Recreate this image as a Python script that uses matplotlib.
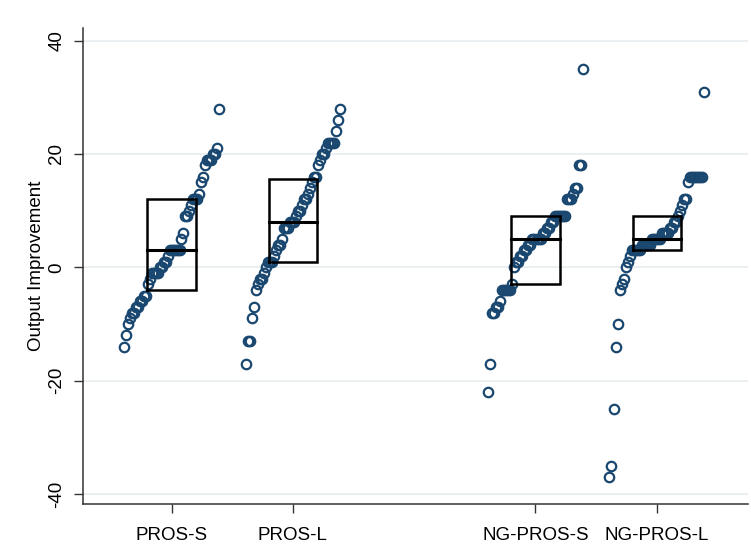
import matplotlib
matplotlib.use("Agg")
import matplotlib.pyplot as plt
import numpy as np

# ---- data ----
categories = ["PROS-S", "PROS-L", "NG-PROS-S", "NG-PROS-L"]
positions = [1, 2, 4, 5]

pros_s = [-14, -12, -10, -9, -8, -8, -7, -7, -6, -6, -5, -5, -3, -2, -1, -1, -1, -1,
          0, 0, 1, 1, 2, 3, 3, 3, 3, 3, 3, 5, 6, 9, 9, 10, 11, 12, 12, 12, 13, 15,
          16, 18, 19, 19, 19, 20, 20, 21, 28]
pros_l = [-17, -13, -13, -9, -7, -4, -3, -2, -2, -1, 0, 1, 1, 1, 2, 3, 4, 4, 5, 7,
          7, 7, 8, 8, 8, 9, 10, 10, 11, 12, 12, 13, 14, 15, 16, 16, 18, 19, 20, 20,
          21, 22, 22, 22, 22, 24, 26, 28]
ng_pros_s = [-22, -17, -8, -8, -7, -7, -6, -4, -4, -4, -4, -4, -3, 0, 1, 1, 2, 2,
             3, 3, 4, 4, 5, 5, 5, 5, 5, 6, 6, 7, 7, 8, 8, 9, 9, 9, 9, 9, 9, 12, 12,
             12, 13, 14, 14, 18, 18, 35]
ng_pros_l = [-37, -35, -25, -14, -10, -4, -3, -2, 0, 1, 2, 3, 3, 3, 3, 3, 4, 4, 4,
             4, 4, 5, 5, 5, 5, 5, 6, 6, 6, 6, 7, 7, 8, 8, 9, 10, 11, 12, 12, 15, 16,
             16, 16, 16, 16, 16, 16, 31]
series = [pros_s, pros_l, ng_pros_s, ng_pros_l]

box_q1 = [-4, 1, -3, 3]
box_median = [3, 8, 5, 5]
box_q3 = [12, 15.5, 9, 9]

yticks = [-40, -20, 0, 20, 40]
ylabel = "Output Improvement"

# ---- style ----
plt.rcParams['font.family'] = ['Liberation Sans', 'DejaVu Sans']
marker_color = "#1a476f"
grid_color = "#e8eff0"

W, H = 751, 554
fig = plt.figure(figsize=(W / 100, H / 100), dpi=100)
ax = fig.add_axes([0.110, 0.0897, 0.886, 0.8598])

point_half = 0.39
box_half = 0.2

for pos, vals in zip(positions, series):
    v = np.sort(np.asarray(vals, dtype=float))
    n = len(v)
    xs = pos + (np.arange(n) / (n - 1) - 0.5) * 2 * point_half
    ax.plot(xs, v, linestyle="none", marker="o", markersize=6.8,
            markerfacecolor="none", markeredgecolor=marker_color,
            markeredgewidth=1.6, zorder=3)

for pos, q1, med, q3 in zip(positions, box_q1, box_median, box_q3):
    ax.plot([pos - box_half, pos + box_half, pos + box_half, pos - box_half, pos - box_half],
            [q1, q1, q3, q3, q1], color="black", linewidth=1.8, zorder=4,
            solid_joinstyle="miter")
    ax.plot([pos - box_half, pos + box_half], [med, med], color="black",
            linewidth=2.2, zorder=4)

ax.set_xlim(0.266, 5.752)
ax.set_ylim(-41.82, 42.23)
ax.set_xticks(positions)
ax.set_xticklabels(categories, fontsize=13.5)
ax.set_yticks(yticks)
ax.set_yticklabels([str(t) for t in yticks], fontsize=13.5, rotation=90, va="center")

# y axis title placed at the reference position
fig.text(37 / W, 1 - 266 / H, ylabel, rotation=90, ha="center", va="center",
         fontsize=13.5)

for t in yticks:
    ax.axhline(t, color=grid_color, linewidth=1.3, zorder=0)

for side in ["top", "right"]:
    ax.spines[side].set_visible(False)
for side in ["left", "bottom"]:
    ax.spines[side].set_color("#333333")
    ax.spines[side].set_linewidth(1.1)
ax.tick_params(axis="both", direction="out", length=6.5, width=1.0, color="#333333")
ax.tick_params(axis="x", pad=10)
ax.tick_params(axis="y", pad=6)

fig.savefig("out.png", dpi=100, facecolor="white")
